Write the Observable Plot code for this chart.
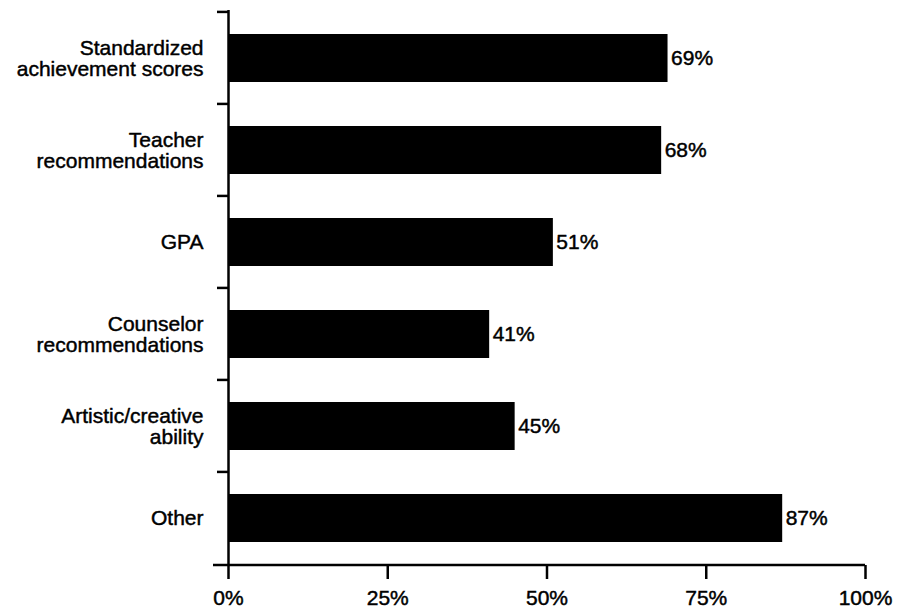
<!DOCTYPE html>
<html>
<head>
<meta charset="utf-8">
<script src="https://cdn.jsdelivr.net/npm/d3@7"></script>
<script src="https://cdn.jsdelivr.net/npm/@observablehq/plot@0.6"></script>
<style>
  html, body { margin: 0; padding: 0; background: #fff; }
  svg { display: block; }
</style>
</head>
<body>
<div id="chart"></div>
<script>
const categories = [
  "Standardized\nachievement scores",
  "Teacher\nrecommendations",
  "GPA",
  "Counselor\nrecommendations",
  "Artistic/creative\nability",
  "Other"
];
const values = [69, 68, 51, 41, 45, 87];
const xTicks = [0, 25, 50, 75, 100];

const data = categories.map((c, i) => ({category: c, value: values[i]}));
const PAD_INNER = 0.48;

function num(v) { return typeof v === "function" ? v() : v; }

function frameLines(index, scales, values, dims) {
  const x = scales.x, y = scales.y;
  const bw = num(y.bandwidth);
  const step = num(y.step) || bw / (1 - PAD_INNER);
  const starts = categories.map(c => y(c)).sort((a, b) => a - b);
  const bounds = starts.map(s => s - step * PAD_INNER / 2);
  bounds.push(starts[starts.length - 1] + bw + step * PAD_INNER / 2);
  const x0 = x(0);
  const bottom = dims.height - dims.marginBottom;
  const g = d3.create("svg:g").attr("stroke", "black").attr("stroke-width", 2.5).attr("fill", "none");
  for (const b of bounds.slice(0, -1)) {
    g.append("line").attr("x1", x0 - 11).attr("x2", x0).attr("y1", b).attr("y2", b);
  }
  g.append("line").attr("x1", x0 - 15).attr("x2", x(100)).attr("y1", bottom).attr("y2", bottom);
  return g.node();
}

const textStyle = {fontSize: 21, fill: "black", stroke: "black", strokeWidth: 0.45};

const chart = Plot.plot({
  width: 899,
  height: 613,
  marginLeft: 228,
  marginRight: 34,
  marginTop: 10,
  marginBottom: 48,
  style: {fontFamily: "'Liberation Sans', Arial, Helvetica, sans-serif", fontSize: "21px", color: "black", background: "white", overflow: "visible"},
  x: {domain: [0, 100], axis: null, label: null},
  y: {domain: categories, paddingInner: PAD_INNER, paddingOuter: PAD_INNER / 2, axis: null, label: null},
  marks: [
    Plot.barX(data, {x: "value", y: "category", fill: "black"}),
    Plot.text(data, {x: "value", y: "category", text: d => d.value + "%", textAnchor: "start", dx: 3, ...textStyle}),
    Plot.text(data, {y: "category", text: "category", frameAnchor: "left", textAnchor: "end", dx: -25, lineHeight: 1.02, ...textStyle}),
    Plot.ruleX([0], {stroke: "black", strokeWidth: 2.5}),
    Plot.axisX(xTicks, {tickSize: 14, tickPadding: 11, tickFormat: d => d + "%", label: null, strokeWidth: 2.5, fontSize: 21, fill: "black", stroke: "black"}),
    frameLines
  ]
});
chart.querySelectorAll("g[aria-label='x-axis tick label'] text, g[aria-label='x-axis tick label']").forEach(el => {
  el.setAttribute("stroke", "black");
  el.setAttribute("stroke-width", "0.45");
});
document.getElementById("chart").appendChild(chart);
</script>
</body>
</html>
